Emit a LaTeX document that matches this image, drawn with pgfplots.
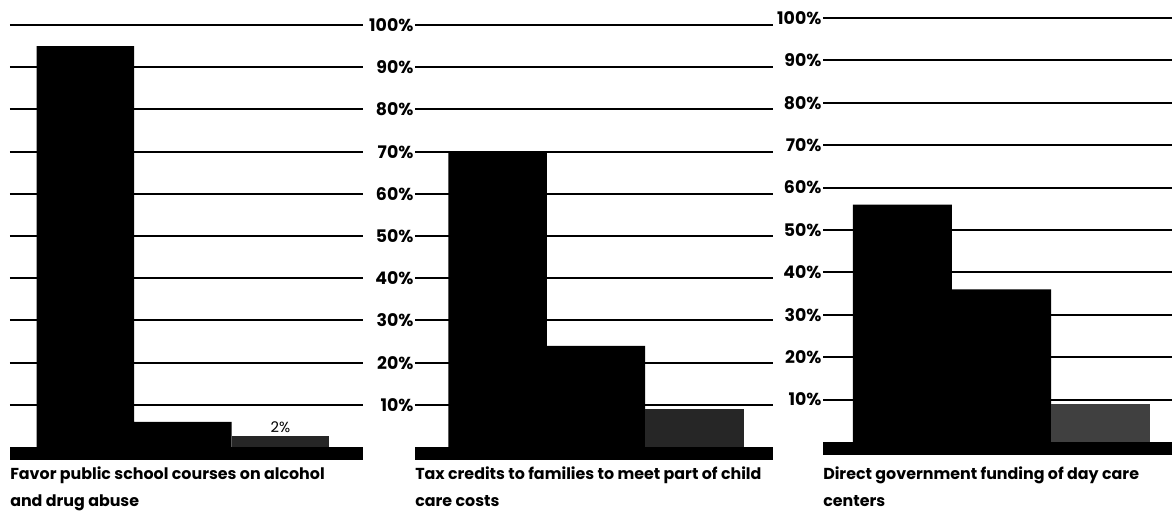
\documentclass[border=0pt]{standalone}
\usepackage{pgfplots}
\pgfplotsset{compat=1.18}
\usepackage{fontspec}
\setmainfont{Poppins}
\begin{document}
\begin{tikzpicture}
\tikzset{
  caption/.style={anchor=north west, inner sep=0pt, align=left,
    font=\bfseries\fontsize{11.9}{20.5}\selectfont},
}
\pgfplotsset{
  panel/.style={
    scale only axis, clip=false,
    anchor=south west,
    ymin=-3, ymax=100,
    ytick={10,20,...,100},
    ymajorgrids,
    grid style={black, line width=1.5pt},
    axis line style={draw=none},
    major tick style={draw=none},
    xtick=\empty,
    yticklabel style={font=\bfseries\fontsize{13}{13}\selectfont, inner xsep=0pt, xshift=-1pt},
    yticklabel={\pgfmathprintnumber{\tick}\%},
    /pgf/number format/assume math mode=true,
  },
  mybar/.style={ybar, bar width=1, bar shift=0pt, draw=none, fill=#1},
}
\path[use as bounding box] (0,0) rectangle (879pt,384pt);

% Panel 1
\begin{axis}[panel, at={(7.5pt,39.2pt)}, width=264.75pt, height=326pt,
  xmin=-0.774, xmax=2.846, yticklabels={}]
\addplot[fill=black, draw=none] coordinates {(-0.774,0) (2.846,0) (2.846,-3) (-0.774,-3)};
\addplot[mybar=black] coordinates {(0,95) (1,6)};
\addplot[mybar=black!85, nodes near coords={2\%},
  every node near coord/.append style={font=\fontsize{11}{11}\selectfont, yshift=-1pt}]
  coordinates {(2,2.6)};
\node[caption, yshift=-5pt] at (rel axis cs:0,0) {Favor public school courses on alcohol\\and drug abuse};
\end{axis}

% Panel 2
\begin{axis}[panel, at={(311.25pt,39.2pt)}, width=268.5pt, height=326pt,
  xmin=-0.84, xmax=2.80]
\addplot[fill=black, draw=none] coordinates {(-0.84,0) (2.80,0) (2.80,-3) (-0.84,-3)};
\addplot[mybar=black] coordinates {(0,70) (1,24)};
\addplot[mybar=black!85] coordinates {(2,9)};
\node[caption, yshift=-5pt] at (rel axis cs:0,0) {Tax credits to families to meet part of child\\care costs};
\end{axis}

% Panel 3
\begin{axis}[panel, at={(617.25pt,43pt)}, width=261.75pt, height=327.5pt,
  xmin=-0.80, xmax=2.72]
\addplot[fill=black, draw=none] coordinates {(-0.80,0) (2.72,0) (2.72,-3) (-0.80,-3)};
\addplot[mybar=black] coordinates {(0,56) (1,36)};
\addplot[mybar=black!75] coordinates {(2,9)};
\node[caption, yshift=-8.8pt] at (rel axis cs:0,0) {Direct government funding of day care\\centers};
\end{axis}
\end{tikzpicture}
\end{document}
